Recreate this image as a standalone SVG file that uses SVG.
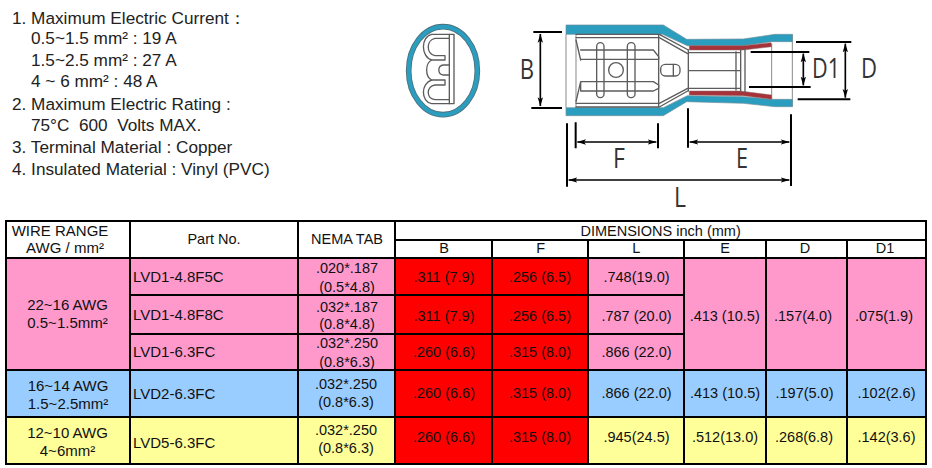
<svg xmlns="http://www.w3.org/2000/svg" width="932" height="468" viewBox="0 0 932 468">
<defs>
<style>
text{font-family:"Liberation Sans",Arial,sans-serif;fill:#111;white-space:pre}
.n{font-size:17.2px;fill:#222}
.t{font-size:14.5px}
.w{font-size:15px}
.c{text-anchor:middle}
.h{font-size:14.5px}
.lb{font-family:"Open Sans",sans-serif;font-size:26.5px;fill:#333;text-anchor:middle}
.grid{stroke:#000;stroke-width:2;fill:none}
.pink{fill:#ff99cc}.blue{fill:#99ccff}.yel{fill:#ffff99}.red{fill:#ff0000}
.bl{fill:#2b9dbf;stroke:#6f8f9a;stroke-width:2;stroke-linejoin:round}
.rd{fill:#a8323a;stroke:#8a6a6a;stroke-width:1.5}
.g{fill:none;stroke:#5c5c5c;stroke-width:4;stroke-linejoin:round;stroke-linecap:round}
.lg{fill:none;stroke:#8a8a8a;stroke-width:3}
.k{stroke:#000;stroke-width:6;fill:none}
.d{stroke:#000;stroke-width:5;fill:none;marker-start:url(#a);marker-end:url(#a)}
</style>
<marker id="a" viewBox="0 0 28 18" refX="26" refY="9" markerWidth="28" markerHeight="18" markerUnits="userSpaceOnUse" orient="auto-start-reverse"><path d="M0,1 L27,9 L0,17 L6,9 Z" fill="#000"/></marker>
</defs>
<rect width="932" height="468" fill="#fff"/>
<g id="notes">
<text class="n" x="12" y="24.3">1. Maximum Electric Current：</text>
<text class="n" x="31" y="43.5">0.5~1.5 mm² : 19 A</text>
<text class="n" x="31" y="65.5">1.5~2.5 mm² : 27 A</text>
<text class="n" x="31" y="87">4 ~ 6 mm² : 48 A</text>
<text class="n" x="12" y="110">2. Maximum Electric Rating :</text>
<text class="n" x="31" y="131">75°C  600  Volts MAX.</text>
<text class="n" x="12" y="153">3. Terminal Material : Copper</text>
<text class="n" x="12" y="175">4. Insulated Material : Vinyl (PVC)</text>
</g>
<g id="terminal-end" transform="translate(390 5) scale(.33333)">
<ellipse cx="159" cy="197" rx="103" ry="132" fill="#fff" stroke="#4d6f7a" stroke-width="17"/>
<ellipse cx="159" cy="197" rx="103" ry="132" fill="none" stroke="#2b9dbf" stroke-width="12"/>
<path class="g" d="M192,88 V296 H125 C92,290 92,235 125,225 C105,215 105,175 125,165 C92,155 92,95 125,88 Z"/>
<path class="g" d="M178,88 V296 M178,100 H135 C108,105 108,148 135,152 H165 V165 H125 M178,180 H160 C142,182 142,208 160,210 H178 M125,225 H165 V240 H135 C108,244 108,282 135,284 H178"/>
</g>
<g id="terminal-side" transform="translate(390 5) scale(.33333)">
<path class="lg" d="M528,88 V308 M558,88 V308 M1207,88 V305 M1145,115 V283"/>
<path class="bl" d="M528,60 L820,60 L890,103 L1060,102 L1155,88 L1207,88 L1207,110 L1145,110 L1060,122 L892,122 L818,88 L528,88 Z"/>
<path class="bl" d="M528,308 L820,308 L892,272 L1060,275 L1145,283 L1207,283 L1207,305 L1155,305 L1060,295 L890,290 L820,332 L528,332 Z"/>
<path class="rd" d="M898,122 L1062,122 L1143,113 L1145,125 L1060,135 L898,135 Z"/>
<path class="rd" d="M898,258 L1050,258 L1145,270 L1145,283 L1060,272 L898,270 Z"/>
<path class="g" d="M558,88 H806 M558,98 H806 M558,295 H806 M558,306 H806 M806,88 V306"/>
<path class="g" d="M808,88 L895,135 M808,98 L893,146 M808,306 L893,258 M808,295 L893,250"/>
<path class="g" d="M895,135 V258 M895,143 H1050 M895,250 H1050 M895,197 H1050 M1038,140 V255 M1052,135 V258 M1065,130 V262"/>
<path class="g" d="M558,105 L572,165 M572,135 H790 L806,155 V163 H572 M558,290 L572,230 M572,230 H790 L806,240 V250 L790,258 H572 L572,230"/>
<rect class="g" x="620" y="113" width="22" height="165" rx="11"/>
<rect class="g" x="712" y="113" width="23" height="165" rx="11"/>
<circle class="g" cx="678" cy="195" r="22"/>
<rect class="g" x="812" y="178" width="58" height="35" rx="14"/>
<path class="g" d="M850,178 V213"/>
</g>
<g id="dimensions" transform="translate(390 5) scale(.33333)">
<path class="k" d="M430,81 H516 M424,309 H516 M557,352 V430 M804,355 V430 M531,355 V545 M1203,328 V543 M894,310 V428 M1218,111 H1384 M1223,283 H1381 M1082,141 H1258 M1077,246 H1262"/>
<path class="d" d="M451,87 V303"/>
<path class="d" d="M562,411 H799"/>
<path class="d" d="M536,525 H1198"/>
<path class="d" d="M899,411 H1198"/>
<path class="d" d="M1366,116 V278"/>
<path class="d" d="M1240,146 V241"/>
</g>
<g id="dimension-labels">
<text class="lb" x="527" y="79" textLength="14.3" lengthAdjust="spacingAndGlyphs">B</text>
<text class="lb" x="619" y="168" textLength="11.9" lengthAdjust="spacingAndGlyphs">F</text>
<text class="lb" x="742" y="168" textLength="12" lengthAdjust="spacingAndGlyphs">E</text>
<text class="lb" x="680" y="207" textLength="12" lengthAdjust="spacingAndGlyphs">L</text>
<text class="lb" x="826" y="78" textLength="28" lengthAdjust="spacingAndGlyphs">D1</text>
<text class="lb" x="869" y="78" textLength="16" lengthAdjust="spacingAndGlyphs">D</text>
</g>
<g id="table-fills">
<rect class="pink" x="6" y="258" width="389" height="112"/>
<rect class="blue" x="6" y="370" width="389" height="47"/>
<rect class="yel" x="6" y="417" width="389" height="47"/>
<rect class="red" x="395" y="258" width="193" height="206"/>
<rect class="pink" x="588" y="258" width="338" height="112"/>
<rect class="blue" x="588" y="370" width="338" height="47"/>
<rect class="yel" x="588" y="417" width="338" height="47"/>
</g>
<g id="table-grid">
<path class="grid" d="M6,221 H926 V464 H6 Z M6,258 H926 M6,370 H926 M6,417 H926 M395,240 H926 M130,295 H684 M130,334 H684 M130,221 V464 M298,221 V464 M395,221 V464 M492,240 V464 M588,240 V464 M684,240 V464 M766,240 V464 M847,240 V464"/>
</g>
<g id="table-header">
<text class="w c" x="60" y="235.7">WIRE RANGE</text>
<text class="w c" x="65" y="253">AWG / mm²</text>
<text class="t c" x="214" y="244">Part No.</text>
<text class="t c" x="347" y="244">NEMA TAB</text>
<text class="h c" x="660.6" y="235.7">DIMENSIONS inch (mm)</text>
<text class="h c" x="444" y="253.3">B</text>
<text class="h c" x="540.6" y="253.3">F</text>
<text class="h c" x="636.4" y="253.3">L</text>
<text class="h c" x="725" y="253.3">E</text>
<text class="h c" x="805" y="253.3">D</text>
<text class="h c" x="885" y="253.3">D1</text>
</g>
<g id="row-22-16">
<text class="w c" x="67.5" y="310">22~16 AWG</text>
<text class="w c" x="67.5" y="327.7">0.5~1.5mm²</text>
<text class="w" x="133" y="282.3">LVD1-4.8F5C</text>
<text class="t c" x="347" y="273">.020*.187</text>
<text class="t c" x="347" y="291.7">(0.5*4.8)</text>
<text class="t c" x="444" y="282.3">.311 (7.9)</text>
<text class="t c" x="540" y="282.3">.256 (6.5)</text>
<text class="t c" x="636.5" y="282.3">.748(19.0)</text>
<text class="w" x="133" y="320">LVD1-4.8F8C</text>
<text class="t c" x="347" y="311.7">.032*.187</text>
<text class="t c" x="347" y="329">(0.8*4.8)</text>
<text class="t c" x="444" y="320.7">.311 (7.9)</text>
<text class="t c" x="540" y="320.7">.256 (6.5)</text>
<text class="t c" x="636.5" y="320.7">.787 (20.0)</text>
<text class="w" x="133" y="356.7">LVD1-6.3FC</text>
<text class="t c" x="347" y="348.3">.032*.250</text>
<text class="t c" x="347" y="366.7">(0.8*6.3)</text>
<text class="t c" x="444" y="357.3">.260 (6.6)</text>
<text class="t c" x="540" y="357.3">.315 (8.0)</text>
<text class="t c" x="636.5" y="357.3">.866 (22.0)</text>
<text class="t c" x="724.7" y="320.7">.413 (10.5)</text>
<text class="t c" x="803" y="320.7">.157(4.0)</text>
<text class="t c" x="884" y="320.7">.075(1.9)</text>
</g>
<g id="row-16-14">
<text class="w c" x="68" y="390.7">16~14 AWG</text>
<text class="w c" x="68" y="409">1.5~2.5mm²</text>
<text class="w" x="133" y="399">LVD2-6.3FC</text>
<text class="t c" x="346" y="389">.032*.250</text>
<text class="t c" x="346" y="407">(0.8*6.3)</text>
<text class="t c" x="444" y="398.3">.260 (6.6)</text>
<text class="t c" x="540" y="398.3">.315 (8.0)</text>
<text class="t c" x="636.5" y="398.3">.866 (22.0)</text>
<text class="t c" x="725" y="398.3">.413 (10.5)</text>
<text class="t c" x="804.5" y="398.3">.197(5.0)</text>
<text class="t c" x="886.5" y="398.3">.102(2.6)</text>
</g>
<g id="row-12-10">
<text class="w c" x="67.5" y="437.7">12~10 AWG</text>
<text class="w c" x="67.5" y="455.7">4~6mm²</text>
<text class="w" x="133" y="448">LVD5-6.3FC</text>
<text class="t c" x="346" y="435">.032*.250</text>
<text class="t c" x="346" y="453">(0.8*6.3)</text>
<text class="t c" x="444" y="441.7">.260 (6.6)</text>
<text class="t c" x="540" y="441.7">.315 (8.0)</text>
<text class="t c" x="636.5" y="441.7">.945(24.5)</text>
<text class="t c" x="725" y="441.7">.512(13.0)</text>
<text class="t c" x="804" y="441.7">.268(6.8)</text>
<text class="t c" x="886.5" y="441.7">.142(3.6)</text>
</g>
</svg>
